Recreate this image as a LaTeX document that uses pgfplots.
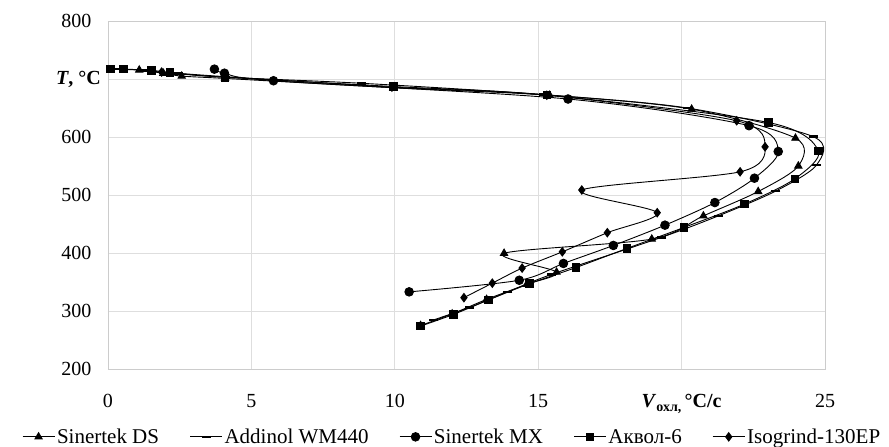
\documentclass[border=0pt]{standalone}
\usepackage{fontspec}
\setmainfont{Liberation Serif}
\usepackage{pgfplots}
\pgfplotsset{compat=1.18}
\begin{document}
\begin{tikzpicture}
\useasboundingbox (-108pt,-78pt) rectangle (781pt,369pt);
\begin{axis}[
  at={(0pt,0pt)}, anchor=south west,
  scale only axis, width=717pt, height=348pt,
  xmin=0, xmax=25, ymin=200, ymax=800,
  xtick={0,5,10,15,20,25},
  xticklabels={0,5,10,15,{\textbf{\textit{V}\raisebox{-0.45ex}{\fontsize{14}{14}\selectfont\bfseries охл,}\,°C/с}},25},
  ytick={200,300,400,500,600,700,800},
  yticklabels={200,300,400,500,600,{},800},
  grid=major,
  major grid style={draw=black!13, line width=0.8pt},
  axis line style={draw=black!20, line width=0.8pt},
  tick style={draw=none},
  tick label style={font=\fontsize{20}{24}\selectfont},
  xticklabel style={yshift=-22pt},
  yticklabel style={xshift=-13pt},
  clip=false,
  legend columns=5,
  legend style={draw=none, fill=none, font=\fontsize{21}{25}\selectfont,
    at={(0.48,-0.195)}, anchor=center,
    /tikz/every even column/.append style={column sep=28.5pt},
    inner sep=0pt},
  legend cell align=left,
  legend image code/.code={\draw[mark repeat=2,mark phase=2,#1] plot coordinates {(0pt,0pt) (16pt,0pt) (32pt,0pt)};},
  every axis plot/.append style={black, line width=0.9pt, smooth, tension=0.5},
]
\addplot[mark=triangle*, mark size=4.2pt, mark options={solid}] coordinates {
(1.09,715.5) (1.93,710) (2.57,705) (4.08,701) (9.95,685) (15.4,672) (20.35,648)
(23.97,598) (24.07,550) (22.67,506) (20.76,464) (18.96,424) (13.81,399.5) (15.64,367)
(14.6,346) (13.2,320) (12.0,295) (10.9,275)};
\addlegendentry{Sinertek DS}
\addplot[mark=-, mark size=4.5pt, mark options={solid, line width=2.6pt}] coordinates {
(0.3,717) (1.2,715) (2.45,709) (4.1,703) (8.85,692.6) (15.2,673) (20.2,650)
(24.59,600.6) (24.71,552) (23.29,507) (21.28,464) (19.3,427) (15.46,363)
(13.94,333) (12.6,306) (11.34,284.5)};
\addlegendentry{Addinol WM440}
\addplot[mark=*, mark size=4.3pt, mark options={solid}] coordinates {
(3.71,717) (4.06,710) (5.77,697) (16.04,665.5) (22.35,619.5) (23.37,575) (22.54,529)
(21.16,487) (19.42,448) (17.62,413) (15.88,382) (14.34,353) (10.5,333)};
\addlegendentry{Sinertek MX}
\addplot[mark=square*, mark size=3.8pt, mark options={solid}] coordinates {
(0.09,717) (0.53,717) (1.52,715) (2.16,711) (4.08,703) (9.95,687) (15.3,672.4)
(23.03,625) (24.77,576) (23.95,528) (22.2,484.5) (20.08,444) (18.1,408) (16.32,375)
(14.69,347) (13.26,319) (12.04,294) (10.9,274)};
\addlegendentry{Аквол-6}
\addplot[mark=diamond*, mark size=4.2pt, mark options={solid}] coordinates {
(1.87,712) (4.1,704) (9.9,686) (15.3,672) (21.92,628) (22.91,583) (22.04,540)
(16.52,508.6) (19.15,469.5) (17.41,435) (15.84,402) (14.44,374) (13.4,348) (12.41,323)};
\addlegendentry{Isogrind-130EP}
\node[anchor=east, font=\fontsize{20}{24}\selectfont, inner sep=0pt] at (axis cs:0,700) [xshift=-7pt] {\textbf{\textit{T}, °C}};
\end{axis}
\end{tikzpicture}
\end{document}
